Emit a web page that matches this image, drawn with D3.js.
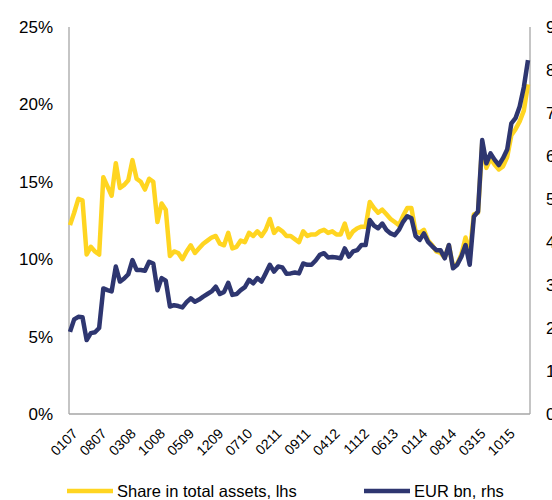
<!DOCTYPE html>
<html>
<head>
<meta charset="utf-8">
<script src="https://cdn.jsdelivr.net/npm/d3@7"></script>
<style>
  body { margin: 0; background: #fff; }
  svg text { font-family: "Liberation Sans", Arial, sans-serif; fill: #000; }
</style>
</head>
<body>
<svg id="chart" width="552" height="500"></svg>
<script>
// monthly observations, Jan 2007 .. Mar 2016 (mmyy)
var months = [];
for (var y = 7; y <= 16; y++) {
    for (var m = 1; m <= 12; m++) {
        if (y === 16 && m > 3) break;
        months.push(String(m).padStart(2, "0") + String(y).padStart(2, "0"));
    }
}

var tickLabels = ["0107","0807","0308","1008","0509","1209","0710","0211",
                  "0911","0412","1112","0613","0114","0814","0315","1015"];

// share in total assets, % (lhs)
var shareValues = [
    12.2, 13.0, 13.9, 13.8, 10.3, 10.8, 10.5, 10.3, 15.3, 14.7,
    14.1, 16.2, 14.6, 14.8, 15.1, 16.4, 15.2, 15.0, 14.5, 15.2,
    15.0, 12.4, 13.6, 13.2, 10.2, 10.5, 10.4, 10.0, 10.5, 10.9,
    10.4, 10.7, 11.0, 11.2, 11.4, 11.5, 11.0, 10.9, 11.7, 10.7,
    10.8, 11.2, 11.1, 11.7, 11.5, 11.8, 11.5, 11.9, 12.6, 11.7,
    12.0, 11.8, 11.5, 11.5, 11.3, 11.1, 11.8, 11.5, 11.6, 11.6,
    11.8, 11.9, 11.7, 11.8, 11.6, 11.6, 12.3, 11.4, 11.8, 12.0,
    12.1, 12.1, 13.7, 13.3, 13.0, 13.2, 12.9, 12.6, 12.4, 12.2,
    12.8, 13.3, 13.3, 11.8, 11.7, 11.9, 11.2, 10.9, 10.5, 10.4,
    10.1, 10.9,  9.5,  9.7, 10.3, 11.4, 10.4, 12.9, 13.0, 17.5,
    15.9, 16.5, 16.1, 15.8, 16.0, 16.6, 18.0, 18.4, 18.9, 19.6,
    21.3
];

// EUR bn (rhs)
var eurValues = [
    1.91, 2.20, 2.26, 2.25, 1.72, 1.88, 1.90, 2.00, 2.92, 2.88,
    2.85, 3.43, 3.08, 3.15, 3.25, 3.58, 3.35, 3.35, 3.33, 3.54,
    3.50, 2.88, 3.16, 3.10, 2.50, 2.53, 2.51, 2.48, 2.60, 2.69,
    2.61, 2.66, 2.73, 2.79, 2.85, 2.96, 2.79, 2.84, 3.05, 2.77,
    2.79, 2.88, 2.95, 3.12, 3.04, 3.16, 3.08, 3.27, 3.47, 3.31,
    3.43, 3.41, 3.26, 3.27, 3.29, 3.27, 3.50, 3.47, 3.47, 3.57,
    3.70, 3.74, 3.64, 3.65, 3.64, 3.62, 3.85, 3.66, 3.78, 3.81,
    3.93, 3.93, 4.51, 4.38, 4.32, 4.43, 4.28, 4.20, 4.16, 4.28,
    4.47, 4.60, 4.55, 4.14, 4.05, 4.20, 4.00, 3.90, 3.81, 3.81,
    3.62, 3.93, 3.39, 3.47, 3.66, 3.93, 3.47, 4.59, 4.71, 6.37,
    5.83, 6.06, 5.91, 5.79, 5.95, 6.15, 6.76, 6.88, 7.15, 7.60,
    8.23
];

var leftTicks = [0, 5, 10, 15, 20, 25];
var rightTicks = [0, 1, 2, 3, 4, 5, 6, 7, 8, 9];

var seriesNames = ["Share in total assets, lhs", "EUR bn, rhs"];
var colors = ["#FFD521", "#2E3670"];

var svg = d3.select("svg#chart"),
    margin = {top: 27, right: 22, bottom: 86, left: 69},
    width = +svg.attr("width") - margin.left - margin.right,
    height = +svg.attr("height") - margin.top - margin.bottom;

var x = d3.scalePoint()
    .domain(months)
    .range([margin.left + 1, margin.left + width - 2]);

var yLeft = d3.scaleLinear()
    .domain([0, 25])
    .range([margin.top + height, margin.top]);

var yRight = d3.scaleLinear()
    .domain([0, 9])
    .range([margin.top + height, margin.top]);

// axes
var axisColor = "#A6A6A6";

svg.append("line")
    .attr("x1", margin.left).attr("x2", margin.left)
    .attr("y1", margin.top).attr("y2", margin.top + height)
    .attr("stroke", axisColor).attr("stroke-width", 1.3);
svg.append("line")
    .attr("x1", margin.left + width).attr("x2", margin.left + width)
    .attr("y1", margin.top).attr("y2", margin.top + height)
    .attr("stroke", axisColor).attr("stroke-width", 1.3);
svg.append("line")
    .attr("x1", margin.left).attr("x2", margin.left + width)
    .attr("y1", margin.top + height).attr("y2", margin.top + height)
    .attr("stroke", axisColor).attr("stroke-width", 1.3);

svg.append("g")
    .selectAll("text")
    .data(leftTicks)
    .enter()
    .append("text")
    .attr("x", 53)
    .attr("y", d => yLeft(d))
    .attr("dy", "0.35em")
    .attr("text-anchor", "end")
    .style("font-size", "17px")
    .text(d => d + "%");

svg.append("g")
    .selectAll("text")
    .data(rightTicks)
    .enter()
    .append("text")
    .attr("x", 546)
    .attr("y", d => yRight(d))
    .attr("dy", "0.35em")
    .style("font-size", "17px")
    .text(d => d);

svg.append("g")
    .selectAll("text")
    .data(tickLabels)
    .enter()
    .append("text")
    .attr("transform", d => "translate(" + (x(d) + 5) + "," + (margin.top + height + 17) + ") rotate(-45)")
    .attr("text-anchor", "end")
    .attr("dy", "0.35em")
    .style("font-size", "14px")
    .text(d => d);

// lines
var shareLine = d3.line()
    .x((d, i) => x(months[i]))
    .y(d => yLeft(d));

var eurLine = d3.line()
    .x((d, i) => x(months[i]))
    .y(d => yRight(d));

svg.append("path")
    .datum(shareValues)
    .attr("d", shareLine)
    .attr("fill", "none")
    .attr("stroke", colors[0])
    .attr("stroke-width", 4.5)
    .attr("stroke-linejoin", "round");

svg.append("path")
    .datum(eurValues)
    .attr("d", eurLine)
    .attr("fill", "none")
    .attr("stroke", colors[1])
    .attr("stroke-width", 4.5)
    .attr("stroke-linejoin", "round");

// legend
var legendPos = [67, 364];
var legend = svg.append("g")
    .selectAll("g")
    .data(seriesNames)
    .enter()
    .append("g")
    .attr("transform", (d, i) => "translate(" + legendPos[i] + ",491)");

legend.append("line")
    .attr("x1", 0).attr("x2", 46)
    .attr("stroke", (d, i) => colors[i])
    .attr("stroke-width", 4.5);

legend.append("text")
    .attr("x", 50)
    .attr("dy", "0.35em")
    .style("font-size", "16.5px")
    .text(d => d);
</script>
</body>
</html>
